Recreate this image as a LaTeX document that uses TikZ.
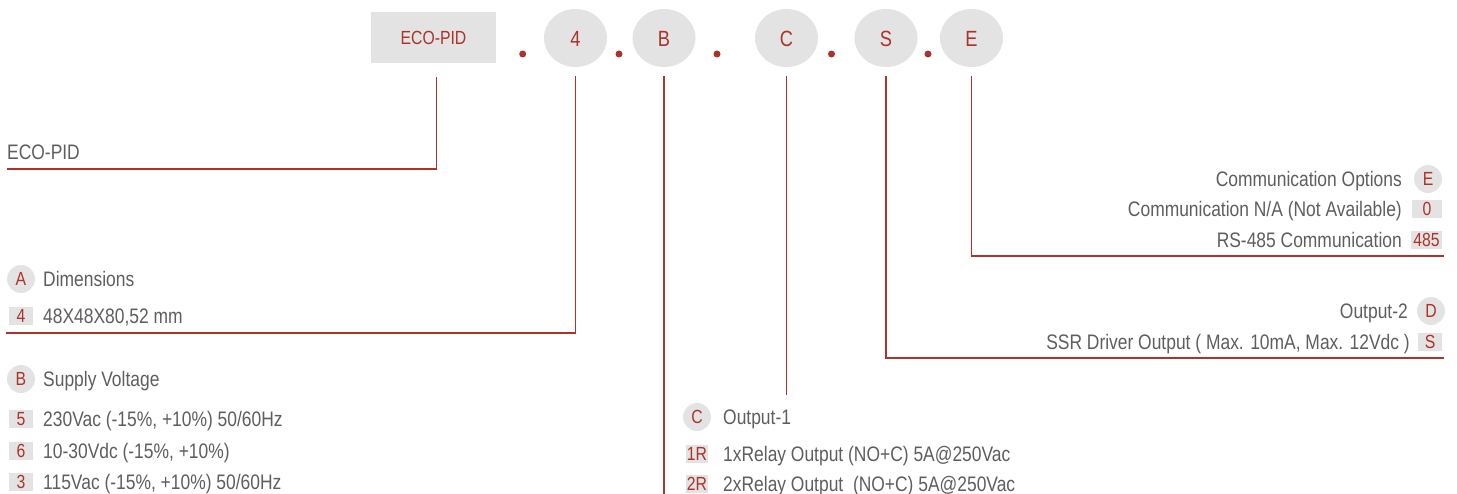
\documentclass[tikz,border=0pt]{standalone}
\usepackage{fontspec}
\setmainfont{Liberation Sans}[FakeStretch=0.83]
\usetikzlibrary{shapes.geometric}
\definecolor{ecored}{HTML}{AC3329}
\definecolor{ecogray}{HTML}{E3E3E3}
\definecolor{ecotext}{HTML}{5E5E5E}

\begin{document}
\begin{tikzpicture}[x=1pt, y=-1pt,
	every node/.style={font=\fontsize{21}{25}\selectfont},
	codebox/.style={rectangle, fill=ecogray, minimum width=125, minimum height=51, inner sep=0, text height=14, text depth=0, text=ecored, font=\fontsize{19}{23}\selectfont},
	codecirc/.style={ellipse, fill=ecogray, minimum width=63, minimum height=58, inner sep=0, text height=16, text depth=0, text=ecored, font=\fontsize{22}{26}\selectfont},
	sepdot/.style={circle, fill=ecored, minimum size=7, inner sep=0},
	lead/.style={ecored, line width=1.8},
	headcirc/.style={circle, fill=ecogray, minimum size=28, inner sep=0, text height=13.5, text depth=0, text=ecored, font=\fontsize{19}{23}\selectfont},
	optbox/.style={rectangle, fill=ecogray, minimum width=24, minimum height=18, inner sep=0, text height=13.5, text depth=0, text=ecored, font=\fontsize{19}{23}\selectfont},
	itemtext/.style={anchor=west, inner sep=0, text height=15, text depth=0, text=ecotext},
	itemright/.style={itemtext, anchor=east}]
	\useasboundingbox (0,0) rectangle (1457,493);
	% code row
	\node[codebox] (eco) at (433.5,37.5) {ECO-PID};
	\node[codecirc] (c4) at (575.5,38) {4};
	\node[codecirc] (cB) at (664,38) {B};
	\node[codecirc] (cC) at (786.5,38) {C};
	\node[codecirc] (cS) at (886,38) {S};
	\node[codecirc] (cE) at (971.5,38) {E};
	\foreach \x [count=\i] in {522.7,619,717,831.5,928} {\node[sepdot] (d\i) at (\x,54) {};}
	% leader ends
	\coordinate (ecoEnd) at (7,169);
	\coordinate (dimEnd) at (6,333);
	\coordinate (supEnd) at (663,495);
	\coordinate (outEnd) at (787,395);
	\coordinate (ssrEnd) at (1444,358);
	\coordinate (comEnd) at (1444,256);
	\draw[lead, shorten <=14] ([xshift=3]eco.south) |- (ecoEnd);
	\draw[lead, shorten <=9] (c4.south) |- (dimEnd);
	\draw[lead, shorten <=9] (cB.south) -- (cB.south |- supEnd);
	\draw[lead, shorten <=9] (cC.south) -- (cC.south |- outEnd);
	\draw[lead, shorten <=9] (cS.south) |- (ssrEnd);
	\draw[lead, shorten <=9] (cE.south) |- (comEnd);
	% left column
	\node[itemtext] (ecoTxt) at (7,152) {ECO-PID};
	\node[headcirc] (hA) at (21,279) {A};
	\node[itemtext] (tA) at (43,279) {Dimensions};
	\node[optbox] (b4) at (21,316) {4};
	\node[itemtext] (t4) at (43,316) {48X48X80,52 mm};
	\node[headcirc] (hB) at (21,379) {B};
	\node[itemtext] (tB) at (43,379) {Supply Voltage};
	\foreach \y/\k/\s [count=\i] in {419/5/{230Vac (-15\%, +10\%) 50/60Hz}, 451/6/{10-30Vdc (-15\%, +10\%)}, 482/3/{115Vac (-15\%, +10\%) 50/60Hz}} {
		\node[optbox] (bv\i) at (21,\y) {\k};
		\node[itemtext] (tv\i) at (43,\y) {\s};}
	% middle column
	\node[headcirc] (hC) at (697,417) {C};
	\node[itemtext] (tC) at (723,417) {Output-1};
	\node[optbox, minimum width=22] (b1R) at (697,453.5) {1R};
	\node[itemtext] (t1R) at (723,453.5) {1xRelay Output (NO+C) 5A@250Vac};
	\node[optbox, minimum width=22] (b2R) at (697,484) {2R};
	\node[itemtext] (t2R) at (723,484) {2xRelay Output~ (NO+C) 5A@250Vac};
	% right column
	\node[headcirc] (hE) at (1428,179) {E};
	\node[itemright] (tE) at (1402,179) {Communication Options};
	\node[optbox, minimum width=30] (b0) at (1427,209) {0};
	\node[itemright] (t0) at (1402,209) {Communication N/A (Not Available)};
	\node[optbox, minimum width=31] (b485) at (1426.5,240) {485};
	\node[itemright] (t485) at (1402,240) {RS-485 Communication};
	\node[headcirc] (hD) at (1431,311) {D};
	\node[itemright] (tD) at (1408,311) {Output-2};
	\node[optbox] (bS) at (1430,342) {S};
	\node[itemright] (tS) at (1410,342) {SSR Driver Output ( Max. 10mA, Max. 12Vdc )};
\end{tikzpicture}
\end{document}
